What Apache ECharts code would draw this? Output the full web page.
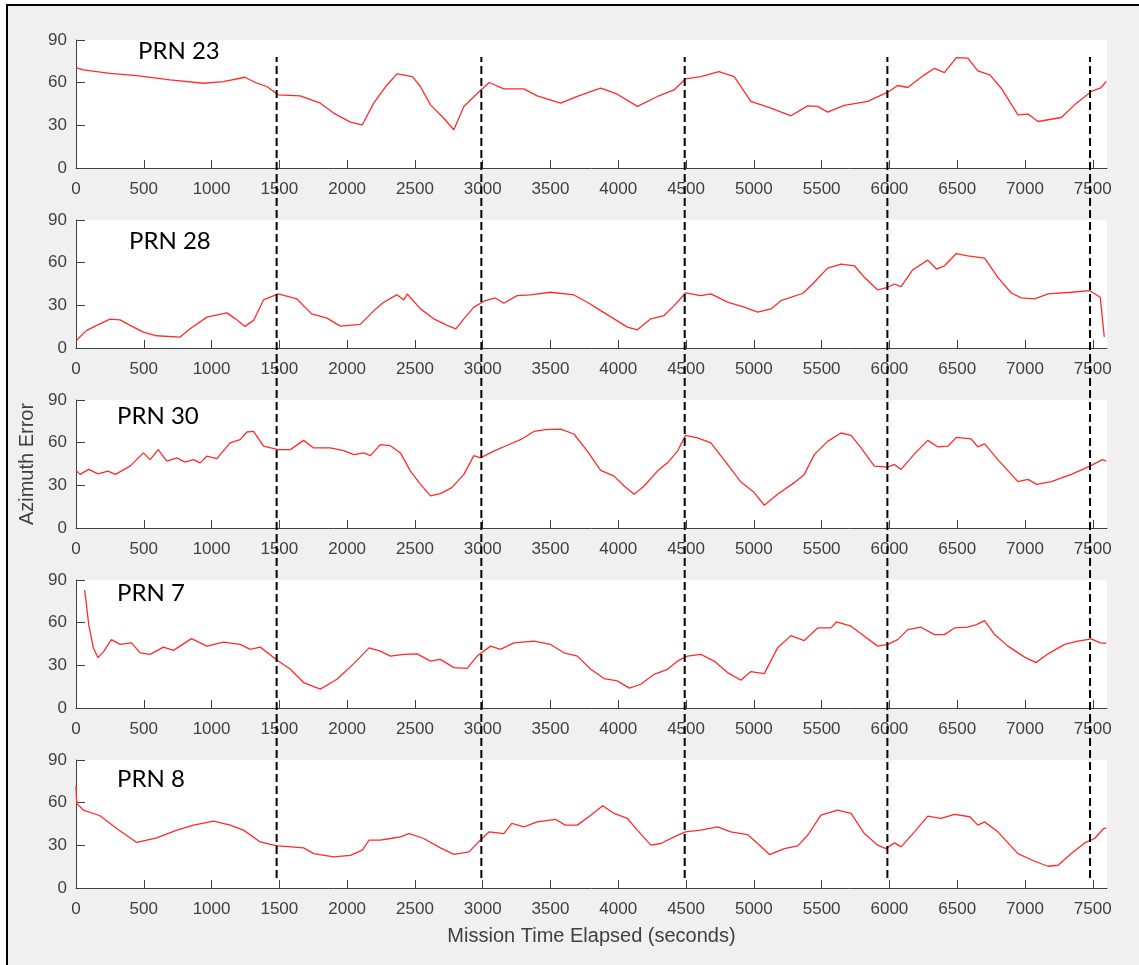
<!DOCTYPE html>
<html>
<head>
<meta charset="utf-8">
<script src="https://cdn.jsdelivr.net/npm/echarts@6/dist/echarts.min.js"></script>
<style>
  html, body { margin: 0; padding: 0; background: #fff; }
  #chart { width: 1139px; height: 965px; }
</style>
</head>
<body>
<div id="chart"></div>
<script>
// time (s), azimuth error (deg)
var prn23 = [[0,70.6],[54,69],[251,66.6],[448,65],[694,62],[940,59.6],[1088,60.8],[1246,63.8],[1334,59.6],[1408,57.3],[1492,51.4],[1654,50.7],[1802,45.6],[1900,38.6],[2024,32.3],[2112,30.4],[2196,45.6],[2294,58.4],[2368,66.2],[2482,64.3],[2540,57.3],[2615,44.4],[2713,35],[2787,26.9],[2861,43.3],[2969,53.3],[3048,60.1],[3156,55.6],[3304,55.6],[3402,50.7],[3575,45.6],[3698,50.3],[3870,56.1],[3993,51.9],[4141,43.3],[4289,50.3],[4412,54.9],[4496,62.7],[4609,64.3],[4742,67.8],[4855,64.3],[4978,46.8],[5126,42.1],[5274,36.7],[5397,43.7],[5471,43.3],[5544,39.3],[5667,44],[5840,46.8],[5988,53.3],[6061,58],[6135,56.6],[6258,65.5],[6332,70.1],[6406,67.1],[6494,77.6],[6578,77.2],[6652,68.3],[6741,65.5],[6825,56.1],[6948,37.4],[7022,37.9],[7096,32.7],[7268,35.5],[7366,44.4],[7489,53.8],[7555,56.1],[7600,60.8]];
var prn28 = [[0,4.2],[15,6.5],[79,12.4],[153,15.9],[251,20.3],[325,19.8],[399,15.9],[497,11.2],[596,8.6],[768,7.7],[842,13.5],[965,21.7],[1113,24.7],[1177,20.5],[1246,15.2],[1310,19.4],[1383,33.8],[1492,38],[1630,34.5],[1738,24],[1851,21],[1950,15.4],[2097,16.6],[2211,27.5],[2270,32.2],[2368,37.5],[2418,33.8],[2443,38],[2541,27.5],[2639,20.5],[2738,15.9],[2802,13.5],[2861,20.5],[2935,28.7],[3009,32.9],[3092,35.2],[3156,31.5],[3254,36.8],[3353,37.3],[3500,39.2],[3673,37.3],[3772,32.2],[3870,26.3],[3969,20.5],[4067,14.7],[4141,12.8],[4240,20.5],[4338,22.8],[4412,29.8],[4496,38.7],[4609,36.8],[4683,38],[4806,32.2],[4929,28.7],[5028,25.2],[5126,27.5],[5200,33.3],[5363,38.5],[5446,46.2],[5544,56.2],[5643,59],[5742,57.8],[5815,49.7],[5914,40.8],[5988,42.7],[6037,45],[6086,43.1],[6170,54.8],[6283,61.8],[6347,55.5],[6406,57.8],[6494,66.4],[6578,64.8],[6702,63.2],[6800,49.7],[6899,38.7],[6973,35.2],[7071,34.5],[7170,38],[7342,39.2],[7480,40.3],[7555,35.7],[7585,7.7]];
var prn30 = [[0,40.5],[30,37.7],[94,41.2],[162,38.1],[236,40],[291,37.7],[399,43.5],[497,52.8],[547,48.1],[606,55.1],[670,47],[744,49.3],[803,46.3],[867,48.1],[916,45.8],[965,50.5],[1039,48.8],[1137,59.8],[1211,62.1],[1261,67.5],[1310,67.9],[1383,57.5],[1492,55.1],[1581,55.1],[1679,61.6],[1753,56.3],[1876,56.3],[1975,54.4],[2049,51.6],[2122,52.8],[2172,50.9],[2245,58.6],[2319,57.9],[2393,52.8],[2467,40],[2541,30.7],[2615,22.6],[2688,24.2],[2772,28.4],[2861,37.7],[2935,50.9],[2984,49.3],[3082,54],[3181,58.2],[3279,62.1],[3378,67.9],[3462,69.1],[3575,69.5],[3673,66.1],[3772,54],[3870,40.5],[3969,36.5],[4043,29.5],[4117,23.7],[4191,29.5],[4289,40],[4363,45.8],[4437,54],[4496,65.1],[4585,63.3],[4683,59.8],[4806,44.7],[4905,32.3],[5003,24.9],[5077,16],[5175,23.7],[5298,31.9],[5372,37.7],[5446,51.6],[5544,60.9],[5643,66.8],[5717,65.1],[5791,56.3],[5889,43.5],[5988,42.8],[6037,44.7],[6086,41.2],[6185,52.1],[6283,61.6],[6357,57],[6431,57.5],[6494,63.7],[6603,62.6],[6652,57],[6702,59.1],[6800,48.1],[6948,32.6],[7022,34.2],[7086,30.7],[7195,32.6],[7342,37.7],[7480,43.5],[7570,48.1],[7600,47]];
var prn7 = [[64,83],[94,58.6],[128,42.3],[162,35.4],[202,39.5],[261,48.1],[325,44.7],[409,45.8],[473,38.8],[547,37.7],[645,42.8],[719,40.5],[852,48.8],[965,43.5],[1088,46.3],[1211,44.7],[1285,41.2],[1359,42.8],[1492,33],[1581,27.2],[1679,17.9],[1802,13.3],[1925,20.2],[2049,31.2],[2162,42.3],[2245,40],[2319,36.5],[2418,37.7],[2516,38.1],[2615,33],[2688,34.2],[2787,28.4],[2885,27.9],[2959,36.5],[3058,43.5],[3131,41.2],[3230,45.8],[3378,47],[3501,44.7],[3599,38.8],[3698,36.5],[3797,27.2],[3895,20.7],[3993,19.1],[4082,14],[4166,16.7],[4264,23.7],[4363,27.2],[4446,33.5],[4510,36.5],[4609,37.7],[4707,33],[4806,24.9],[4905,19.5],[4978,25.6],[5077,24.2],[5175,42.3],[5274,50.9],[5372,47.4],[5471,56.3],[5569,56.3],[5609,60.5],[5717,57.5],[5815,50.5],[5914,43.5],[5988,44.7],[6061,48.1],[6135,55.1],[6234,56.8],[6332,51.6],[6406,51.6],[6480,56.3],[6578,56.8],[6643,58.6],[6702,61.4],[6776,51.6],[6874,43.5],[6997,35.8],[7081,31.9],[7170,38.1],[7293,44.7],[7391,47],[7489,48.6],[7555,45.8],[7600,45.4]];
var prn8 = [[0,71.9],[5,59.5],[54,54.8],[177,50.8],[300,41.8],[448,32],[596,35.3],[744,40.7],[867,44.2],[1015,47],[1137,44.2],[1236,40.7],[1359,32.4],[1433,30.6],[1492,29.6],[1679,28.2],[1753,24.2],[1900,21.9],[2024,23],[2112,26.6],[2162,33.6],[2245,33.6],[2319,34.8],[2393,36],[2457,38.3],[2565,34.8],[2688,28.2],[2787,23.7],[2900,25.4],[2969,32.4],[3048,39.5],[3156,38.3],[3215,45.4],[3304,43],[3402,46.5],[3540,48.2],[3609,44.2],[3698,44.2],[3797,51.2],[3885,57.8],[3969,52.4],[4067,48.9],[4141,40.7],[4240,30.1],[4314,31.3],[4412,36],[4496,39.5],[4609,40.7],[4732,43],[4830,39.5],[4953,37.6],[5028,31.3],[5116,23.5],[5225,27.7],[5323,29.6],[5397,37.1],[5495,51.2],[5618,54.8],[5717,52.4],[5815,38.3],[5914,30.1],[5973,27.7],[6037,31.7],[6086,28.9],[6185,39.5],[6283,50.5],[6381,48.9],[6480,51.7],[6593,50.1],[6652,44.2],[6702,46.5],[6800,39.5],[6948,24.2],[7071,18.8],[7170,15.3],[7244,16],[7342,24.2],[7440,31.7],[7514,34.8],[7580,41.8],[7600,42.3]];

var panelNames = ['PRN 23', 'PRN 28', 'PRN 30', 'PRN 7', 'PRN 8'];
var panelData = [prn23, prn28, prn30, prn7, prn8];
var xTicks = [0,500,1000,1500,2000,2500,3000,3500,4000,4500,5000,5500,6000,6500,7000,7500];
var yTicks = [0,30,60,90];
var dashedTimes = [1480, 2990, 4490, 5985, 7480];
var xMax = 7605;

var chartDom = document.getElementById('chart');
var myChart = echarts.init(chartDom);

var axisColor = '#404040';
var tickFont = '"Liberation Sans", Arial, sans-serif';
var grids = [], xAxes = [], yAxes = [], series = [], graphics = [];
var gridTops = [40, 220, 400, 580, 760];
var labelPos = [[138, 51], [129, 241], [117, 416], [117, 593], [117, 779]];
var plain = function (v) { return String(v); };

// figure background with the cropped black border
graphics.push({
    type: 'rect', z: -10, silent: true,
    shape: { x: 7, y: 5, width: 1140, height: 970 },
    style: { fill: '#f0f0f0', stroke: '#000', lineWidth: 2 }
});

for (var i = 0; i < panelData.length; i++) {
    grids.push({ left: 76, width: 1031, top: gridTops[i], height: 128, show: true, backgroundColor: '#fff', borderWidth: 0 });
    xAxes.push({
        type: 'value', gridIndex: i, min: 0, max: xMax,
        axisLine: { show: true, onZero: false, lineStyle: { color: axisColor, width: 1 } },
        axisTick: { show: true, inside: true, length: 8, customValues: xTicks, lineStyle: { color: axisColor } },
        axisLabel: { color: axisColor, fontFamily: tickFont, fontSize: 17, margin: 13, customValues: xTicks, formatter: plain },
        splitLine: { show: false },
        name: i === panelData.length - 1 ? 'Mission Time Elapsed (seconds)' : '',
        nameLocation: 'middle', nameGap: 38,
        nameTextStyle: { color: axisColor, fontFamily: tickFont, fontSize: 20 }
    });
    yAxes.push({
        type: 'value', gridIndex: i, min: 0, max: 90, interval: 30,
        axisLine: { show: true, lineStyle: { color: axisColor, width: 1 } },
        axisTick: { show: true, inside: true, length: 9, lineStyle: { color: axisColor } },
        axisLabel: { color: axisColor, fontFamily: tickFont, fontSize: 17, margin: 9, customValues: yTicks, formatter: plain },
        splitLine: { show: false },
        name: i === 2 ? 'Azimuth Error' : '',
        nameLocation: 'middle', nameGap: 36,
        nameTextStyle: { color: axisColor, fontFamily: tickFont, fontSize: 20 }
    });
    series.push({
        type: 'line', xAxisIndex: i, yAxisIndex: i, data: panelData[i],
        showSymbol: false, smooth: false, z: 3,
        lineStyle: { color: '#ff2a2a', width: 1.3 }
    });
    graphics.push({
        type: 'text', z: 20, silent: true,
        style: { text: panelNames[i], x: labelPos[i][0], y: labelPos[i][1], verticalAlign: 'middle',
                 font: '24px Lato', fill: '#000' }
    });
}

// overlay grid for the dashed markers crossing all panels
var ov = panelData.length;
grids.push({ left: 76, width: 1031, top: 57, bottom: 87, show: false });
xAxes.push({ type: 'value', gridIndex: ov, min: 0, max: xMax, show: false });
yAxes.push({ type: 'value', gridIndex: ov, min: 0, max: 1, show: false });
dashedTimes.forEach(function (t) {
    series.push({
        type: 'line', xAxisIndex: ov, yAxisIndex: ov, data: [[t, 0], [t, 1]],
        showSymbol: false, z: 10, silent: true,
        lineStyle: { color: '#000', width: 2, type: [8, 4] }
    });
});

option = {
    backgroundColor: '#fff',
    animation: false,
    grid: grids,
    xAxis: xAxes,
    yAxis: yAxes,
    series: series,
    graphic: graphics
};
myChart.setOption(option);
</script>
</body>
</html>
